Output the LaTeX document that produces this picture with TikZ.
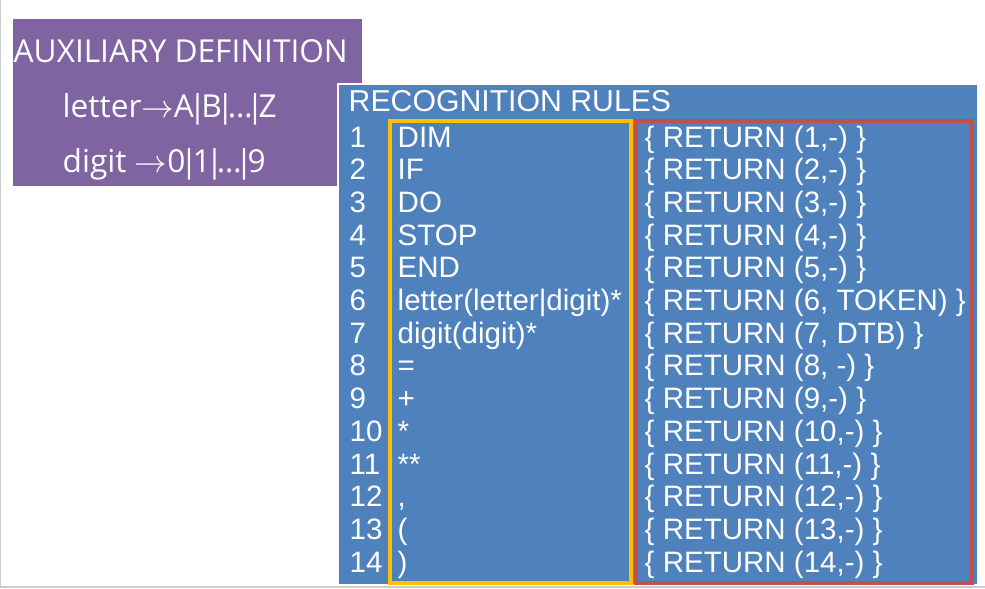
\documentclass[tikz,border=0pt]{standalone}
\usepackage{fontspec}
\setmainfont{Liberation Sans}
\newfontfamily\auxfont{Open Sans}
\usepackage{tikz}

\definecolor{auxpurple}{HTML}{8064A2}
\definecolor{rulesblue}{HTML}{4F81BD}
\definecolor{patgold}{HTML}{FFC000}
\definecolor{actred}{HTML}{C0504D}

\newcommand{\auxbar}{\kern-0.16em|\kern-0.16em}
\newcommand{\auxdots}{\kern-0.04em…\kern-0.04em}

\tikzset{
    auxtext/.style={anchor=base west,inner sep=0pt,text=white,font=\auxfont\fontsize{9.0}{10}\selectfont},
    ruletext/.style={anchor=base west,inner sep=0pt,text=white,font=\fontsize{8.4}{10}\selectfont}
}

\begin{document}
\begin{tikzpicture}
        \useasboundingbox (0,0) rectangle (9.85,5.88);
        \draw [gray!40,line width=0.4pt] (0.005,5.88)--(0.005,0.01)--(9.85,0.01);

        % auxiliary definition
        \fill [auxpurple] (0.13,5.69) rectangle (3.62,4.02);
        \node [auxtext] (auxhead) at(0.13,5.26) {AUXILIARY DEFINITION};
        \node [auxtext] (letterdef) at(0.62,4.71) {letter$\rightarrow$A\auxbar B\auxbar\auxdots\auxbar Z};
        \node [auxtext] (digitdef) at(0.62,4.16) {digit $\rightarrow$0\auxbar 1\auxbar\auxdots\auxbar 9};

        % recognition rules
        \filldraw [fill=rulesblue,draw=white,line width=0.8pt] (3.38,5.04) rectangle (9.78,0.03);
        \draw [patgold,line width=0.9pt] (3.90,4.67) rectangle (6.31,0.05);
        \draw [actred,line width=0.9pt] (6.36,4.67) rectangle (9.72,0.05);
        \node [ruletext,font=\fontsize{8.6}{10}\selectfont] (ruleshead) at(3.48,4.77) {RECOGNITION RULES};

        \node [ruletext] (n1) at(3.49,4.410) {1};
        \node [ruletext] (p1) at(3.97,4.410) {DIM};
        \node [ruletext] (a1) at(6.44,4.410) {\{ RETURN (1,-) \}};
        \node [ruletext] (n2) at(3.49,4.083) {2};
        \node [ruletext] (p2) at(3.97,4.083) {IF};
        \node [ruletext] (a2) at(6.44,4.083) {\{ RETURN (2,-) \}};
        \node [ruletext] (n3) at(3.49,3.756) {3};
        \node [ruletext] (p3) at(3.97,3.756) {DO};
        \node [ruletext] (a3) at(6.44,3.756) {\{ RETURN (3,-) \}};
        \node [ruletext] (n4) at(3.49,3.429) {4};
        \node [ruletext] (p4) at(3.97,3.429) {STOP};
        \node [ruletext] (a4) at(6.44,3.429) {\{ RETURN (4,-) \}};
        \node [ruletext] (n5) at(3.49,3.102) {5};
        \node [ruletext] (p5) at(3.97,3.102) {END};
        \node [ruletext] (a5) at(6.44,3.102) {\{ RETURN (5,-) \}};
        \node [ruletext] (n6) at(3.49,2.775) {6};
        \node [ruletext] (p6) at(3.97,2.775) {letter(letter|digit)*};
        \node [ruletext] (a6) at(6.44,2.775) {\{ RETURN (6, TOKEN) \}};
        \node [ruletext] (n7) at(3.49,2.448) {7};
        \node [ruletext] (p7) at(3.97,2.448) {digit(digit)*};
        \node [ruletext] (a7) at(6.44,2.448) {\{ RETURN (7, DTB) \}};
        \node [ruletext] (n8) at(3.49,2.121) {8};
        \node [ruletext] (p8) at(3.97,2.121) {=};
        \node [ruletext] (a8) at(6.44,2.121) {\{ RETURN (8, -) \}};
        \node [ruletext] (n9) at(3.49,1.794) {9};
        \node [ruletext] (p9) at(3.97,1.794) {+};
        \node [ruletext] (a9) at(6.44,1.794) {\{ RETURN (9,-) \}};
        \node [ruletext] (n10) at(3.49,1.467) {10};
        \node [ruletext] (p10) at(3.97,1.467) {*};
        \node [ruletext] (a10) at(6.44,1.467) {\{ RETURN (10,-) \}};
        \node [ruletext] (n11) at(3.49,1.140) {11};
        \node [ruletext] (p11) at(3.97,1.140) {**};
        \node [ruletext] (a11) at(6.44,1.140) {\{ RETURN (11,-) \}};
        \node [ruletext] (n12) at(3.49,0.813) {12};
        \node [ruletext] (p12) at(3.97,0.813) {,};
        \node [ruletext] (a12) at(6.44,0.813) {\{ RETURN (12,-) \}};
        \node [ruletext] (n13) at(3.49,0.486) {13};
        \node [ruletext] (p13) at(3.97,0.486) {(};
        \node [ruletext] (a13) at(6.44,0.486) {\{ RETURN (13,-) \}};
        \node [ruletext] (n14) at(3.49,0.159) {14};
        \node [ruletext] (p14) at(3.97,0.159) {)};
        \node [ruletext] (a14) at(6.44,0.159) {\{ RETURN (14,-) \}};
    \end{tikzpicture}
\end{document}
